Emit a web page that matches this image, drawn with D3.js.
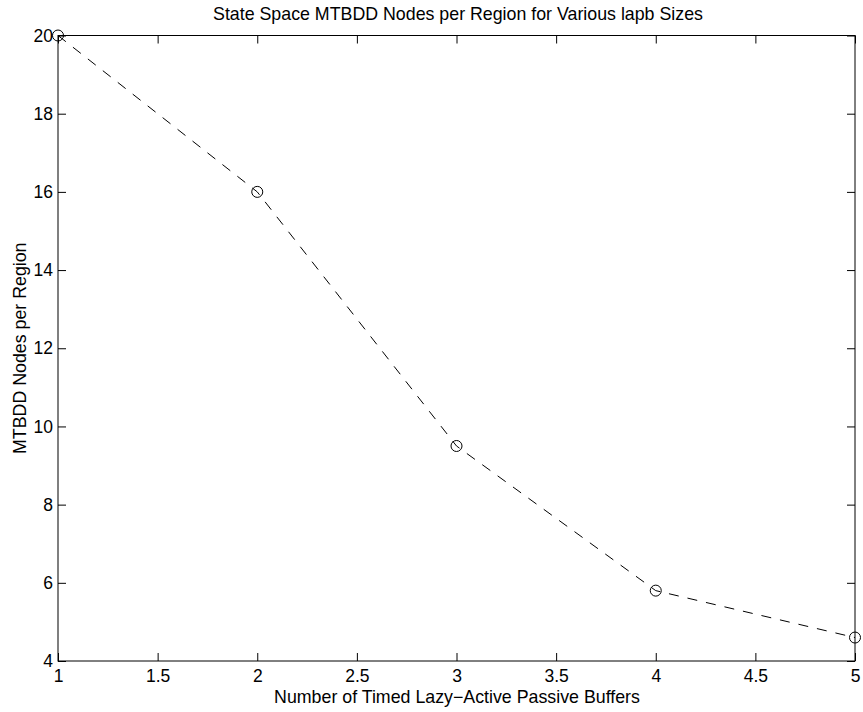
<!DOCTYPE html>
<html>
<head>
<meta charset="utf-8">
<script src="https://cdn.jsdelivr.net/npm/d3@7"></script>
<style>
  body { margin: 0; background: #fff; }
  text { font-family: "Liberation Sans", Arial, sans-serif; fill: #000; }
</style>
</head>
<body>
<svg id="chart" width="863" height="712"></svg>
<script>
var buffers = [1, 2, 3, 4, 5];
var nodesPerRegion = [20, 16, 9.5, 5.8, 4.6];
var xTicks = [1, 1.5, 2, 2.5, 3, 3.5, 4, 4.5, 5];
var yTicks = [4, 6, 8, 10, 12, 14, 16, 18, 20];

var plotL = 58, plotR = 855, plotT = 35.5, plotB = 661;
var svg = d3.select('#chart');

var x = d3.scaleLinear().domain([1, 5]).range([plotL, plotR]);
var y = d3.scaleLinear().domain([4, 20]).range([plotB, plotT]);

// box
svg.append('rect')
   .attr('x', plotL).attr('y', plotT)
   .attr('width', plotR - plotL).attr('height', plotB - plotT)
   .style('fill', 'none').style('stroke', '#000').style('stroke-width', 1);

// axes, ticks pointing inward as in the original
svg.append('g')
   .attr('transform', 'translate(0,' + plotB + ')')
   .call(d3.axisBottom(x).tickValues(xTicks).tickSizeInner(-8).tickSizeOuter(0).tickPadding(9).tickFormat(d3.format('')))
   .call(function(g){ g.select('.domain').remove(); });
svg.append('g')
   .attr('transform', 'translate(0,' + plotT + ')')
   .call(d3.axisTop(x).tickValues(xTicks).tickSizeInner(-8).tickSizeOuter(0).tickFormat(''))
   .call(function(g){ g.select('.domain').remove(); });
svg.append('g')
   .attr('transform', 'translate(' + plotL + ',0)')
   .call(d3.axisLeft(y).tickValues(yTicks).tickSizeInner(-8).tickSizeOuter(0).tickPadding(5))
   .call(function(g){ g.select('.domain').remove(); });
svg.append('g')
   .attr('transform', 'translate(' + plotR + ',0)')
   .call(d3.axisRight(y).tickValues(yTicks).tickSizeInner(-8).tickSizeOuter(0).tickFormat(''))
   .call(function(g){ g.select('.domain').remove(); });

svg.selectAll('.tick text').style('font-size', '17.5px').style('font-family', '"Liberation Sans", Arial, sans-serif');
svg.selectAll('.tick line').style('stroke', '#000');

// data line
var pts = buffers.map(function(b, i){ return [b, nodesPerRegion[i]]; });
svg.append('path')
   .datum(pts)
   .attr('d', d3.line().x(function(d){ return x(d[0]); }).y(function(d){ return y(d[1]); }))
   .style('fill', 'none').style('stroke', '#000').style('stroke-width', 1)
   .style('stroke-dasharray', '10, 9');

svg.selectAll('.marker')
   .data(pts)
   .enter()
   .append('circle')
   .classed('marker', true)
   .attr('cx', function(d){ return x(d[0]); })
   .attr('cy', function(d){ return y(d[1]); })
   .attr('r', 5.5)
   .style('fill', 'none').style('stroke', '#000').style('stroke-width', 1);

// labels
svg.append('text')
   .attr('x', 458).attr('y', 20)
   .attr('text-anchor', 'middle').style('font-size', '17.8px')
   .text('State Space MTBDD Nodes per Region for Various lapb Sizes');
svg.append('text')
   .attr('x', 457).attr('y', 703)
   .attr('text-anchor', 'middle').style('font-size', '17.8px')
   .text('Number of Timed Lazy\u2212Active Passive Buffers');
svg.append('text')
   .attr('transform', 'translate(26,' + (plotT + plotB) / 2 + ') rotate(-90)')
   .attr('text-anchor', 'middle').style('font-size', '17.8px')
   .text('MTBDD Nodes per Region');
</script>
</body>
</html>
